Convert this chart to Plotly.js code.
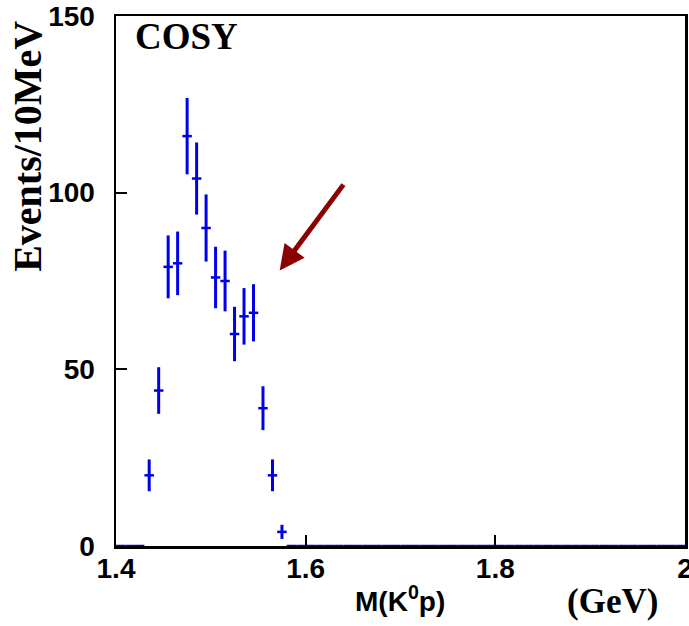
<!DOCTYPE html>
<html>
<head>
<meta charset="utf-8">
<script src="https://cdn.plot.ly/plotly-3.0.1.min.js"></script>
<style>html,body{margin:0;padding:0;background:#fff;}#chart{width:689px;height:626px;}</style>
</head>
<body>
<div id="chart"></div>
<script>
// Bin centres (GeV), 10 MeV bins
const massBins = [1.405,1.415,1.425,1.435,1.445,1.455,1.465,1.475,1.485,1.495,1.505,1.515,1.525,1.535,1.545,1.555,1.565,1.575,
  1.585,1.595,1.605,1.615,1.625,1.635,1.645,1.655,1.665,1.675,1.685,1.695,1.705,1.715,1.725,1.735,1.745,1.755,1.765,1.775,1.785,1.795,
  1.805,1.815,1.825,1.835,1.845,1.855,1.865,1.875,1.885,1.895,1.905,1.915,1.925,1.935,1.945,1.955,1.965,1.975,1.985,1.995];
// Events per bin
const events = [0,0,0,20,44,79,80,116,104,90,76,75,60,65,66,39,20,4,
  0,0,0,0,0,0,0,0,0,0,0,0,0,0,0,0,0,0,0,0,0,0,
  0,0,0,0,0,0,0,0,0,0,0,0,0,0,0,0,0,0,0,0];
// Statistical errors
const errors = [0,0,0,4.5,6.6,8.9,9,10.8,10.2,9.5,8.7,8.6,7.7,8,8.1,6.2,4.5,2,
  0,0,0,0,0,0,0,0,0,0,0,0,0,0,0,0,0,0,0,0,0,0,
  0,0,0,0,0,0,0,0,0,0,0,0,0,0,0,0,0,0,0,0];
const xTicks = [1.4,1.6,1.8,2.0];
const xTickText = ['1.4','1.6','1.8','2'];
const yTicks = [0,50,100,150];

const blue = '#0000e6';
const trace = {
  x: massBins, y: events, type: 'scatter', mode: 'markers',
  marker: {size: 1, color: blue},
  error_y: {type: 'data', array: errors, visible: true, color: blue, thickness: 3, width: 0},
  error_x: {type: 'constant', value: 0.005, visible: true, color: blue, thickness: 2.5, width: 0},
  hoverinfo: 'skip', showlegend: false, cliponaxis: false
};

const tickFont = {family: 'Liberation Sans, Arial, sans-serif', size: 28, color: '#000', weight: 'bold'};
const layout = {
  width: 689, height: 626,
  margin: {l: 116, r: 4, t: 16, b: 80},
  paper_bgcolor: '#fff', plot_bgcolor: '#fff',
  showlegend: false,
  xaxis: {
    range: [1.4, 2.0], tickvals: xTicks, ticktext: xTickText,
    ticks: 'inside', ticklen: 11, tickwidth: 2, tickcolor: '#000',
    showline: true, linecolor: '#000', linewidth: 2.5, mirror: true,
    showgrid: false, zeroline: false, ticklabeloverflow: 'allow', ticklabelstandoff: -4,
    tickfont: tickFont
  },
  yaxis: {
    range: [0, 150], tickvals: yTicks,
    ticks: 'inside', ticklen: 11, tickwidth: 2, tickcolor: '#000',
    showline: true, linecolor: '#000', linewidth: 2.5, mirror: true,
    showgrid: false, zeroline: false, ticklabelstandoff: 13, ticklabeloverflow: 'allow',
    tickfont: tickFont
  },
  annotations: [
    {text: '<b>COSY</b>', xref: 'paper', yref: 'paper', x: 0.03, y: 0.961, xanchor: 'left', yanchor: 'middle',
     showarrow: false, font: {family: 'Liberation Serif, Times New Roman, serif', size: 37, color: '#000'}},
    {text: '<b>Events/10MeV</b>', xref: 'paper', yref: 'paper', x: -0.1547, y: 0.755, xanchor: 'center', yanchor: 'middle',
     textangle: -90, showarrow: false, font: {family: 'Liberation Serif, Times New Roman, serif', size: 40, color: '#000'}},
    {text: '<b>M(K<sup>0</sup>p)</b>', xref: 'paper', yref: 'paper', x: 0.499, y: -0.1, xanchor: 'center', yanchor: 'middle',
     showarrow: false, font: {family: 'Liberation Sans, Arial, sans-serif', size: 28, color: '#000'}},
    {text: '<b>(GeV)</b>', xref: 'paper', yref: 'paper', x: 0.872, y: -0.104, xanchor: 'center', yanchor: 'middle',
     showarrow: false, font: {family: 'Liberation Serif, Times New Roman, serif', size: 35, color: '#000'}},
    {text: '', x: 1.5726, y: 78, xref: 'x', yref: 'y', ax: 1.641, ay: 102.7, axref: 'x', ayref: 'y',
     showarrow: true, arrowhead: 2, arrowsize: 1, arrowwidth: 5, arrowcolor: '#8b0000'}
  ]
};

Plotly.newPlot('chart', [trace], layout, {displayModeBar: false, staticPlot: true});
</script>
</body>
</html>
